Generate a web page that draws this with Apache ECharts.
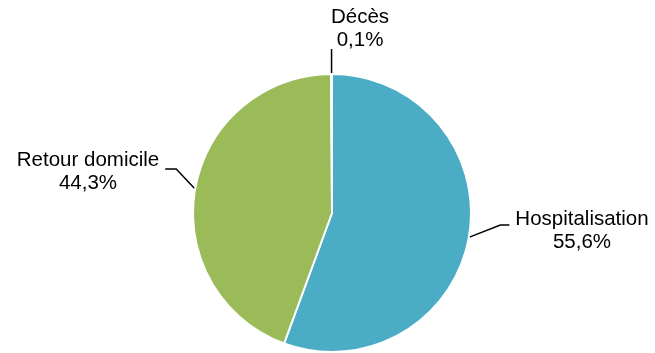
<!DOCTYPE html>
<html>
<head>
<meta charset="utf-8">
<script src="https://cdn.jsdelivr.net/npm/echarts@6/dist/echarts.min.js"></script>
<style>
  html, body { margin: 0; padding: 0; background: #ffffff; }
  #chart { width: 655px; height: 353px; }
</style>
</head>
<body>
<div id="chart"></div>
<script>
// Orientation des patients (en %)
const categories = ['Hospitalisation', 'Retour domicile', 'Décès'];
const shares = [55.6, 44.3, 0.1];
const colors = ['#4BACC6', '#9BBB59', '#4F81BD'];

// Where each label block sits: centre x, top y, and which side the leader comes from
const labelSpots = {
  'Hospitalisation': { x: 582, y: 208, side: 'right' },
  'Retour domicile': { x: 88, y: 149, side: 'left' },
  'Décès': { x: 360, y: 6, side: 'top' }
};

const fmt = v => v.toFixed(1).replace('.', ',') + '%';

const chart = echarts.init(document.getElementById('chart'), null, { renderer: 'canvas' });

chart.setOption({
  animation: false,
  backgroundColor: '#ffffff',
  series: [{
    type: 'pie',
    center: [332, 213],
    radius: 139,
    startAngle: 90,
    clockwise: true,
    avoidLabelOverlap: false,
    data: categories.map((name, i) => ({
      name: name,
      value: shares[i],
      itemStyle: { color: colors[i] }
    })),
    itemStyle: { borderColor: '#ffffff', borderWidth: 2 },
    label: {
      show: true,
      position: 'outside',
      formatter: p => p.name + '\n' + fmt(p.value),
      fontFamily: '"Liberation Sans", Arial, sans-serif',
      fontSize: 20.5,
      lineHeight: 23,
      color: '#000000',
      align: 'center'
    },
    labelLine: {
      show: true,
      lineStyle: { color: '#000000', width: 1.5 }
    },
    emphasis: { disabled: true },
    labelLayout: function (params) {
      const name = categories[params.dataIndex];
      const spot = labelSpots[name];
      const w = params.labelRect.width, h = params.labelRect.height;
      const edge = params.labelLinePoints[0];
      let pts;
      if (spot.side === 'right') {
        const endX = spot.x - w / 2 - 6, y = spot.y + 17;
        pts = [edge, [endX - 9, y], [endX, y]];
      } else if (spot.side === 'left') {
        const endX = spot.x + w / 2 + 6, y = spot.y + 20;
        pts = [edge, [endX + 11, y], [endX, y]];
      } else {
        const y = spot.y + h - 3;
        pts = [edge, [edge[0], (edge[1] + y) / 2], [edge[0], y]];
      }
      return {
        x: spot.x,
        y: spot.y,
        align: 'center',
        verticalAlign: 'top',
        labelLinePoints: pts
      };
    }
  }]
});
</script>
</body>
</html>
